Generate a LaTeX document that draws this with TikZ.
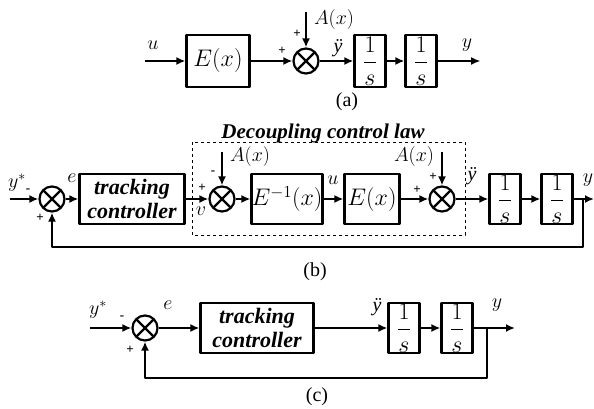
\RequirePackage{fix-cm}
\documentclass[tikz,border=0pt]{standalone}
\usepackage{amsmath}
\usepackage{fontspec}
\setmainfont{Liberation Serif}
\usetikzlibrary{arrows.meta}
\tikzset{
  every picture/.style={line join=round, >={Latex[length=9pt,width=8pt]}},
  sig/.style={line width=2.2pt},
  thinsig/.style={line width=1.1pt},
  blk/.style={draw, line width=2.2pt, minimum height=50pt, inner sep=0pt, font=\fontsize{24}{28}\selectfont},
  intblk/.style={blk, minimum width=31pt},
  ctrl/.style={blk, align=center, font=\fontsize{22}{26}\selectfont\bfseries\itshape},
  sumx/.style={circle, draw, line width=2.2pt, minimum size=25pt, inner sep=0pt,
    path picture={\draw[line width=2.2pt] (path picture bounding box.north west) -- (path picture bounding box.south east)
      (path picture bounding box.north east) -- (path picture bounding box.south west);}},
  lbl/.style={inner sep=0pt, font=\fontsize{20}{24}\selectfont},
  sgn/.style={inner sep=0pt, font=\fontsize{13}{15}\selectfont\bfseries},
}
\newcommand{\integ}{$\dfrac{1}{s}$}
\newcommand{\yddot}{\textit{ÿ}}
\begin{document}
\begin{tikzpicture}[x=1pt,y=-1pt]
\useasboundingbox (0,0) rectangle (594,409);

\coordinate (ua) at (145,61);
\node[blk, minimum width=63pt, minimum height=52pt] (Ea) at (218,61) {$E(x)$};
\node[sumx] (Sa) at (306,61) {};
\node[intblk, minimum height=52pt] (I1a) at (370,61) {\integ};
\node[intblk, minimum height=52pt] (I2a) at (421,61) {\integ};
\coordinate (ya) at (480,61);
\coordinate (Aa) at (306,12);
\draw[sig,->] (ua) -- (Ea);
\draw[sig,->] (Ea) -- (Sa);
\draw[sig,->] (Aa) -- (Sa);
\draw[sig,->] (Sa) -- (I1a);
\draw[sig,->] (I1a) -- (I2a);
\draw[thinsig,->] (I2a) -- (ya);
\node[lbl] (lu) at (153,45) {$u$};
\node[lbl] (lA) at (334,20) {$A(x)$};
\node[lbl] (ldd) at (338,48) {\yddot};
\node[lbl] (ly) at (467,45) {$y$};
\node[sgn] (pa1) at (282,51) {+};
\node[sgn] (pa2) at (297,34) {+};
\node[lbl] (capa) at (347,102) {(a)};

\node[font=\fontsize{21}{24}\selectfont\bfseries\itshape, inner sep=0pt] (title) at (323,133) {Decoupling control law};
\draw[dashed, line width=0.9pt] (192,142) rectangle (465,235);
\coordinate (rb) at (10,199);
\node[sumx] (S1b) at (52,199) {};
\node[ctrl, minimum width=105pt] (Cb) at (132,199) {tracking\\[-2pt]controller};
\node[sumx] (S2b) at (222,199) {};
\node[blk, minimum width=63pt] (Einv) at (287,199) {$E^{-1}(x)$};
\node[blk, minimum width=55pt] (Eb) at (372,199) {$E(x)$};
\node[sumx] (S3b) at (442,199) {};
\node[intblk] (I1b) at (505,199) {\integ};
\node[intblk] (I2b) at (557,199) {\integ};
\coordinate (yb) at (594,199);
\coordinate (Bb) at (583,199);
\coordinate (A2b) at (222,152);
\coordinate (A3b) at (442,152);
\draw[sig,->] (rb) -- (S1b);
\draw[sig,->] (S1b) -- (Cb);
\draw[sig,->] (Cb) -- (S2b);
\draw[sig,->] (A2b) -- (S2b);
\draw[sig,->] (S2b) -- (Einv);
\draw[sig,->] (Einv) -- (Eb);
\draw[sig,->] (Eb) -- (S3b);
\draw[sig,->] (A3b) -- (S3b);
\draw[sig,->] (S3b) -- (I1b);
\draw[sig,->] (I1b) -- (I2b);
\draw[sig,->] (I2b) -- (yb);
\draw[sig,->] (Bb) -- ++(0,48) -| (S1b);
\node[lbl] (lys) at (17,183) {$y^{*}$};
\node[sgn] (mb1) at (28,191) {-};
\node[sgn] (pb1) at (40,218) {+};
\node[lbl] (le) at (72,178) {$e$};
\node[sgn] (pb2) at (202,188) {+};
\node[lbl] (lv) at (201,211) {$v$};
\node[sgn] (mb2) at (213,173) {-};
\node[lbl] (lA2) at (250,157) {$A(x)$};
\node[lbl] (lub) at (333,180) {$u$};
\node[sgn] (pb3) at (417,190) {+};
\node[sgn] (pb4) at (433,177) {+};
\node[lbl] (lA3) at (414,157) {$A(x)$};
\node[lbl] (lddb) at (472,176) {\yddot};
\node[lbl] (lyb) at (588,180) {$y$};
\node[lbl] (capb) at (315,272) {(b)};

\coordinate (rc) at (90,328);
\node[sumx] (S1c) at (145,328) {};
\node[ctrl, minimum width=113pt] (Cc) at (257,328) {tracking\\[-2pt]controller};
\node[intblk] (I1c) at (404,328) {\integ};
\node[intblk] (I2c) at (457,328) {\integ};
\coordinate (yc) at (515,328);
\coordinate (Bc) at (487,328);
\draw[sig,->] (rc) -- (S1c);
\draw[sig,->] (S1c) -- (Cc);
\draw[sig,->] (Cc) -- (I1c);
\draw[sig,->] (I1c) -- (I2c);
\draw[sig,->] (I2c) -- (yc);
\draw[sig,->] (Bc) -- ++(0,50) -| (S1c);
\node[lbl] (lysc) at (98,310) {$y^{*}$};
\node[sgn] (mc1) at (122,318) {-};
\node[sgn] (pc1) at (130,350) {+};
\node[lbl] (lec) at (168,305) {$e$};
\node[lbl] (lddc) at (377,307) {\yddot};
\node[lbl] (lyc) at (497,305) {$y$};
\node[lbl] (capc) at (317,397) {(c)};
\end{tikzpicture}
\end{document}
